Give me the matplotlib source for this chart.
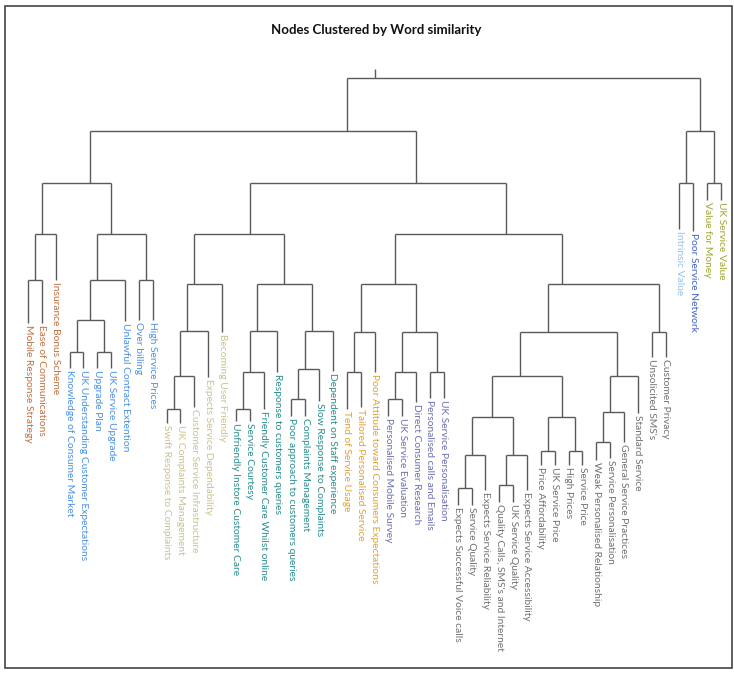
import matplotlib
matplotlib.use("Agg")
import matplotlib.pyplot as plt
from matplotlib.patches import Rectangle

# leaf labels, left to right
labels = [
    "Mobile Response Strategy", "Ease of Communications", "Insurance Bonus Scheme",
    "Knowledge of Consumer Market", "UK Understanding Customer Expectations",
    "Upgrade Plan", "UK Service Upgrade", "Unlawful Contract Extention",
    "Over billing", "High Service Prices",
    "Swift Response to Complaints", "UK Complaints Management",
    "Customer Service Infrastructure", "Expects Service Dependability",
    "Becoming User Friendly",
    "Unfriendly Instore Customer Care", "Service Courtesy",
    "Friendly Customer Care Whilst online", "Response to customers queries",
    "Poor approach to customers queries", "Complaints Management",
    "Slow Response to Complaints", "Dependent on Staff experience",
    "Tend of Service Usage", "Tailored Personalised Service",
    "Poor Attitude toward Consumers Expectations",
    "Personalised Mobile Survey", "UK Service Evaluation",
    "Direct Consumer Research", "Personalised calls and Emails",
    "UK Service Personalisation",
    "Expects Successful Voice calls", "Service Quality",
    "Expects Service Reliability", "Quality Calls, SMS's and Internet",
    "UK Service Quality", "Expects Service Accessibility",
    "Price Affordability", "UK Service Price", "High Prices", "Service Price",
    "Weak Personalised Relationship", "Service Personalisation",
    "General Service Practices", "Standard Service",
    "Unsolicited SMS's", "Customer Privacy",
    "Intrinsic Value", "Poor Service Network", "Value for Money", "UK Service Value",
]

# cluster colour group of each leaf
groups = [0]*3 + [1]*7 + [2]*5 + [3]*8 + [4]*3 + [5]*5 + [6]*16 + [7, 8, 9, 9]
group_colors = ["#c0703f", "#4a90e2", "#c9c28e", "#2a8c8c", "#e3a12f",
                "#6b6fae", "#707070", "#93c2ee", "#3f62c8", "#a0a530"]

# height where each leaf line stops (label starts there)
leaf_tips = [44.6, 44.6, 54.3, 34.4, 34.4, 34.4, 34.4, 45.0, 45.2, 45.2,
             21.9, 21.9, 25.6, 32.4, 42.5, 22.4, 22.4, 25.1, 33.5, 23.5,
             23.5, 26.9, 33.7, 25.1, 25.6, 33.5, 23.5, 23.5, 26.7, 27.6,
             27.6, 3.4, 3.4, 6.8, 4.1, 4.1, 6.8, 12.4, 12.4, 12.4,
             12.4, 13.6, 14.0, 17.6, 24.2, 36.9, 36.9, 65.8, 65.4, 72.4,
             72.4]

# merges (id_a, id_b, height); ids >= 51 refer to earlier merges
merges = [
    (0, 1, 54.3), (51, 2, 64.7), (3, 4, 38.1), (5, 6, 38.1), (53, 54, 45.2),
    (55, 7, 54.3), (8, 9, 54.3), (56, 57, 64.7), (52, 58, 76.2),
    (10, 11, 25.2), (60, 12, 32.5), (61, 13, 42.8), (62, 14, 53.5),
    (15, 16, 25.2), (64, 17, 33.5), (65, 18, 42.8),
    (19, 20, 27.3), (67, 21, 34.2), (68, 22, 42.8), (66, 69, 53.5), (63, 70, 64.7),
    (23, 24, 33.5), (72, 25, 42.5), (26, 27, 27.3), (74, 28, 33.5), (29, 30, 33.5),
    (75, 76, 42.5), (73, 77, 53.5),
    (31, 32, 7.2), (79, 33, 14.7), (34, 35, 7.9), (81, 36, 14.7), (80, 82, 23.2),
    (37, 38, 15.6), (39, 40, 15.6), (84, 85, 23.2), (83, 86, 32.5),
    (41, 42, 17.6), (88, 43, 24.4), (89, 44, 32.5), (87, 90, 42.5),
    (45, 46, 42.5), (91, 92, 53.5), (78, 93, 64.7), (71, 94, 76.2),
    (59, 95, 88.0), (47, 48, 76.2), (49, 50, 76.2), (97, 98, 88.0),
    (96, 99, 100.0),
]

n = len(labels)
W, H = 734, 673
fig = plt.figure(figsize=(W / 100, H / 100), dpi=100)
ax = fig.add_axes([0, 0, 1, 1])
step = 13.86
ax.set_xlim(-28 / step, (W - 28) / step)
ax.set_ylim(520 - H, 520)
ax.axis("off")

def py(h):
    # height -> axis units (4.42 px per unit)
    return h * 4.42

pos = {i: (i, leaf_tips[i]) for i in range(n)}
span = {i: (i, i) for i in range(n)}
line_kw = dict(color="#595959", lw=1.0, solid_capstyle="butt")
for k, (a, b, h) in enumerate(merges):
    nid = n + k
    lo = min(span[a][0], span[b][0])
    hi = max(span[a][1], span[b][1])
    span[nid] = (lo, hi)
    xa, ta = pos[a]
    xb, tb = pos[b]
    ax.plot([xa, xb], [py(h), py(h)], **line_kw)
    ax.plot([xa, xa], [py(h), py(ta)], **line_kw)
    ax.plot([xb, xb], [py(h), py(tb)], **line_kw)
    pos[nid] = ((lo + hi) / 2, h)

root_x, root_h = pos[n + len(merges) - 1]
ax.plot([root_x, root_x], [py(root_h), py(root_h + 2.0)], **line_kw)

for i, lab in enumerate(labels):
    ax.text(i, py(leaf_tips[i]) - 2, lab, rotation=270, ha="center", va="top",
            fontsize=7.4, family="Lato", color=group_colors[groups[i]])

fig.text(376 / W, 1 - 30 / H, "Nodes Clustered by Word similarity",
         ha="center", va="center", fontsize=9.5, family="Lato",
         fontweight="bold", color="#111111")

fig.patches.append(Rectangle((5 / W, 5 / H), 727 / W, 662 / H,
                             transform=fig.transFigure, fill=False,
                             edgecolor="#444444", lw=1.2))

fig.savefig("out.png", dpi=100)
